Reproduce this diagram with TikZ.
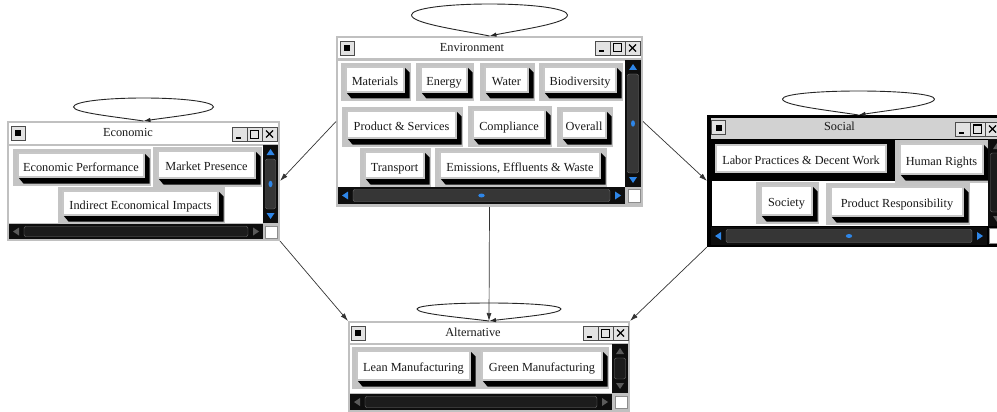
\documentclass[tikz,border=0pt]{standalone}
\usepackage{fontspec}
\setmainfont{Liberation Serif}
\usetikzlibrary{arrows.meta,calc,fit}
\definecolor{wgrey}{HTML}{C0C0C0}
\definecolor{fgrey}{HTML}{C4C4C4}
\definecolor{sbar}{HTML}{0E0E0E}
\definecolor{thumbc}{HTML}{363636}
\definecolor{thumbi}{HTML}{1C1C1C}
\definecolor{sblue}{HTML}{2E86E8}
\definecolor{sinact}{HTML}{5A5A5A}
\definecolor{tgrey}{HTML}{D2D2D2}
\definecolor{tbtn}{HTML}{E2E2E2}
\tikzset{
  btntext/.style={inner sep=0pt, font=\fontsize{12.3}{14}\selectfont, text=black!90, text height=8.5pt, text depth=2.5pt},
  titletext/.style={inner sep=0pt, font=\fontsize{12.3}{14}\selectfont, text=black!90, text height=8.5pt, text depth=2.5pt},
  edgeline/.style={draw=black!80, line width=0.7pt, -{Latex[length=8pt,width=5pt]}},
  loopline/.style={draw=black!85, line width=0.9pt, -{Latex[length=7pt,width=4.5pt]}},
  winbox/.style={inner sep=0pt, outer sep=0pt},
}
% button: name X1 Y1 X2 Y2 framecolor text
\newcommand\guibtn[7]{%
  \fill[#6] (#2,#3) rectangle (#4,#5);
  \fill[black] ({#4-7},{#3+4}) -- ({#4-1.5},{#3+9.5}) -- ({#4-1.5},{#5-2.5}) -- ({#2+10.5},{#5-2.5}) -- ({#2+5},{#5-9}) -- ({#4-7},{#5-9}) -- cycle;
  \filldraw[fill=white, draw=black!22, line width=1.2pt] ({#2+5},{#3+4}) rectangle ({#4-7},{#5-9});
  \node[btntext] (#1) at ({(#2+#4)/2-1},{(#3+#5)/2+0.5}) {#7};
}
\newcommand\tbarbtns[2]{%
  \filldraw[fill=tbtn, draw=black!70, line width=0.8pt] (#1,#2) rectangle ({#1+15},{#2+14});
  \filldraw[fill=tbtn, draw=black!70, line width=0.8pt] ({#1+15},#2) rectangle ({#1+30},{#2+14});
  \filldraw[fill=tbtn, draw=black!70, line width=0.8pt] ({#1+30},#2) rectangle ({#1+45},{#2+14});
  \draw[line width=2pt] ({#1+4},{#2+10.5}) -- ({#1+9},{#2+10.5});
  \draw[line width=1pt] ({#1+18.5},{#2+3}) rectangle ({#1+26.5},{#2+11});
  \draw[line width=1.3pt] ({#1+34},{#2+3.5}) -- ({#1+41},{#2+10.5}) ({#1+34},{#2+10.5}) -- ({#1+41},{#2+3.5});
}
\newcommand\tbarmenu[2]{%
  \filldraw[fill=tbtn, draw=black!70, line width=0.8pt] (#1,#2) rectangle ({#1+14},{#2+14});
  \fill[black] ({#1+4},{#2+4}) rectangle ({#1+10},{#2+10});
}
% vertical scrollbar: X1 Y1 X2 Y2 arrowcolor thumbfill dot
\newcommand\vscrollbar[7]{%
  \fill[sbar] (#1,#2) rectangle (#3,#4);
  \fill[#5] ({(#1+#3)/2-4},{#2+10}) -- ({(#1+#3)/2+4},{#2+10}) -- ({(#1+#3)/2},{#2+4}) -- cycle;
  \fill[#5] ({(#1+#3)/2-4},{#4-10}) -- ({(#1+#3)/2+4},{#4-10}) -- ({(#1+#3)/2},{#4-4}) -- cycle;
  \filldraw[fill=#6, draw=black!55, rounded corners=2pt] ({#1+2.5},{#2+14}) rectangle ({#3-2.5},{#4-14});
  \ifnum#7=1 \fill[#5] ({(#1+#3)/2},{(#2+#4)/2}) ellipse [x radius=2pt, y radius=3.2pt];\fi
}
\newcommand\hscrollbar[7]{%
  \fill[sbar] (#1,#2) rectangle (#3,#4);
  \fill[#5] ({#1+10},{(#2+#4)/2-4}) -- ({#1+10},{(#2+#4)/2+4}) -- ({#1+4},{(#2+#4)/2}) -- cycle;
  \fill[#5] ({#3-10},{(#2+#4)/2-4}) -- ({#3-10},{(#2+#4)/2+4}) -- ({#3-4},{(#2+#4)/2}) -- cycle;
  \filldraw[fill=#6, draw=black!55, rounded corners=2pt] ({#1+15},{#2+2.5}) rectangle ({#3-15},{#4-2.5});
  \ifnum#7=1 \fill[#5] ({(#1+#3)/2},{(#2+#4)/2}) ellipse [x radius=3.2pt, y radius=2pt];\fi
}
\newcommand\whitesq[4]{%
  \filldraw[fill=white, draw=black!45, line width=0.8pt] (#1,#2) rectangle (#3,#4);
}
% self loop above a window: node, half width, end height, top height
\newcommand\guiloop[4]{%
  \draw[loopline] (#1.north)
    .. controls ($(#1.north)+({-0.4*#2},{-0.3*#3})$) and ($(#1.north)+({-#2},{-0.6*#3})$) .. ($(#1.north)+({-#2},{-#3})$)
    .. controls ($(#1.north)+({-#2},{-#3-0.6*(#4-#3)})$) and ($(#1.north)+({-0.55*#2},{-#4})$) .. ($(#1.north)+(0,{-#4})$)
    .. controls ($(#1.north)+({0.55*#2},{-#4})$) and ($(#1.north)+({#2},{-#3-0.6*(#4-#3)})$) .. ($(#1.north)+({#2},{-#3})$)
    .. controls ($(#1.north)+({#2},{-0.6*#3})$) and ($(#1.north)+({0.4*#2},{-0.3*#3})$) .. (#1.north);
}
\begin{document}
\begin{tikzpicture}[x=1pt,y=-1pt]
\useasboundingbox (0,0) rectangle (997,412);
\clip (0,0) rectangle (997,412);
\fill[white] (0,0) rectangle (997,412);

% ===== Environment window =====
\fill[wgrey] (336,36) rectangle (643,207);
\fill[white] (338,38) rectangle (641,58.5);
\fill[white] (338,61) rectangle (625,187);
\node[winbox, fit={(336,36) (643,207)}] (env) {};
\tbarmenu{340}{41}
\tbarbtns{595}{41}
\node[titletext] (envtitle) at (472,48.5) {Environment};
\guibtn{materials}{341}{63}{411}{101}{fgrey}{Materials}
\guibtn{energy}{416}{63}{474}{101}{fgrey}{Energy}
\guibtn{water}{480}{63}{535}{101}{fgrey}{Water}
\guibtn{biodiv}{539}{63}{623}{101}{fgrey}{Biodiversity}
\guibtn{prodserv}{342}{107}{463}{147}{fgrey}{Product \& Services}
\guibtn{compliance}{468}{106}{552}{147}{fgrey}{Compliance}
\guibtn{overall}{557}{107}{613}{147}{fgrey}{Overall}
\guibtn{transport}{360}{148}{431}{187}{fgrey}{Transport}
\guibtn{emissions}{435}{148}{607}{187}{fgrey}{Emissions, Effluents \& Waste}
\vscrollbar{625}{60}{641}{187}{sblue}{thumbc}{1}
\hscrollbar{338}{187}{625}{204}{sblue}{thumbc}{1}
\whitesq{628}{189.5}{640}{202}

% ===== Economic window =====
\fill[wgrey] (7,121) rectangle (280,241);
\fill[white] (9,123) rectangle (278,143.5);
\fill[white] (9,146) rectangle (263,223);
\node[winbox, fit={(7,121) (280,241)}] (econ) {};
\tbarmenu{11}{126}
\tbarbtns{232}{127}
\node[titletext] (econtitle) at (128,133.5) {Economic};
\guibtn{ecoperf}{13}{149}{151}{186}{fgrey}{Economic Performance}
\guibtn{market}{153}{147}{262}{187}{fgrey}{Market Presence}
\guibtn{indirect}{58}{187}{225}{224}{fgrey}{Indirect Economical Impacts}
\vscrollbar{263}{145}{278}{223}{sblue}{thumbc}{1}
\hscrollbar{9}{224}{263}{239}{sinact}{thumbi}{0}
\whitesq{265.5}{226}{277}{238}

% ===== Social window =====
\fill[black] (707,115) rectangle (1010,247);
\fill[tgrey] (711,118.5) rectangle (1010,138.5);
\fill[white] (712,181) rectangle (988,226);
\node[winbox, fit={(707,115) (1010,247)}] (social) {};
\tbarmenu{711.5}{120.5}
\tbarbtns{955}{122}
\node[titletext] (socialtitle) at (839.5,127.5) {Social};
\guibtn{labor}{711}{141}{893}{181}{black}{Labor Practices \& Decent Work}
\guibtn{human}{895}{140}{990}{183}{fgrey}{Human Rights}
\guibtn{society}{756}{182}{819}{224}{fgrey}{Society}
\guibtn{prodresp}{826}{183}{970}{225}{fgrey}{Product Responsibility}
\vscrollbar{988}{139}{1006}{226}{sinact}{thumbi}{0}
\hscrollbar{711}{227}{987}{245}{sblue}{thumbc}{1}
\whitesq{989}{228.5}{1001}{243}

% ===== Alternative window =====
\fill[wgrey] (348,321) rectangle (630,414);
\fill[white] (350,323) rectangle (628,342.5);
\fill[white] (350,345) rectangle (612,393);
\node[winbox, fit={(348,321) (630,414)}] (alt) {};
\tbarmenu{351}{326}
\tbarbtns{583}{326}
\node[titletext] (alttitle) at (473,333) {Alternative};
\guibtn{lean}{352}{347}{477}{389}{fgrey}{Lean Manufacturing}
\guibtn{green}{477}{347}{609}{389}{fgrey}{Green Manufacturing}
\vscrollbar{612}{344}{628}{393}{sinact}{thumbi}{0}
\hscrollbar{350}{394}{612}{410}{sinact}{thumbi}{0}
\whitesq{615}{396}{627}{408.5}

% ===== self loops =====
\guiloop{env}{78}{21}{32}
\guiloop{econ}{70}{14}{23}
\guiloop{social}{76}{16}{24}
\guiloop{alt}{72}{12}{18}

% ===== connectors =====
\draw[edgeline] (env.west) -- (econ.east);
\draw[edgeline] (env.east) -- (social.west);
\draw[edgeline] (env.south) -- (alt.north);
\draw[edgeline] (econ.south east) -- (alt.north west);
\draw[edgeline] (social.south west) -- (alt.north east);
\end{tikzpicture}
\end{document}
